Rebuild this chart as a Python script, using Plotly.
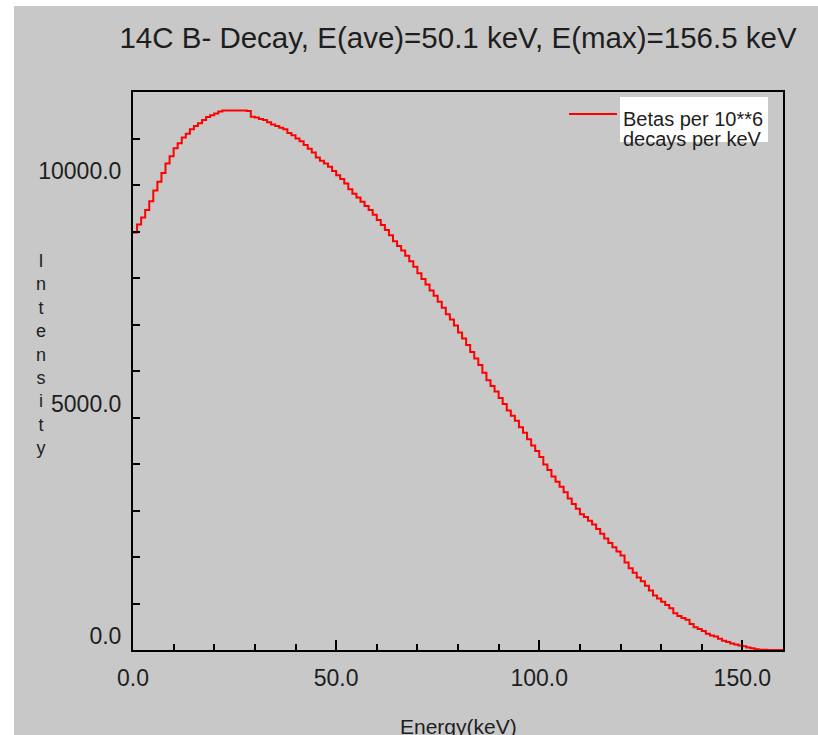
import plotly.graph_objects as go

# ---- data ----
energy_kev = list(range(0, 157)) + [160]
intensity = [
    8980, 9150, 9300, 9460, 9650, 9880, 10070, 10260, 10460, 10620,
    10790, 10900, 11020, 11100, 11200, 11270, 11330, 11400, 11460, 11500,
    11540, 11580, 11600, 11600, 11600, 11600, 11600, 11600, 11590, 11470,
    11450, 11420, 11400, 11350, 11300, 11270, 11230, 11200, 11120, 11070,
    11000, 10940, 10860, 10780, 10700, 10590, 10520, 10460, 10390, 10300,
    10210, 10130, 10030, 9910, 9810, 9730, 9640, 9550, 9460, 9360,
    9250, 9140, 9030, 8920, 8790, 8690, 8590, 8480, 8360, 8240,
    8100, 7980, 7860, 7730, 7620, 7490, 7360, 7220, 7110, 6980,
    6830, 6700, 6560, 6410, 6270, 6130, 5960, 5800, 5680, 5560,
    5420, 5290, 5150, 5040, 4930, 4790, 4670, 4530, 4400, 4280,
    4150, 3990, 3870, 3730, 3620, 3510, 3390, 3260, 3140, 3040,
    2920, 2860, 2780, 2700, 2600, 2500, 2400, 2300, 2210, 2120,
    2030, 1880, 1760, 1660, 1560, 1480, 1380, 1280, 1170, 1110,
    1040, 970, 900, 790, 730, 690, 650, 560, 490, 450,
    410, 350, 310, 290, 240, 200, 170, 140, 120, 95,
    80, 55, 35, 18, 8, 3,
    0, 0,
]
x_ticks = [0, 50, 100, 150]
y_ticks = [0, 5000, 10000]
title_text = "14C B- Decay, E(ave)=50.1 keV, E(max)=156.5 keV"
legend_lines = ["Betas per 10**6", "decays per keV"]
x_title = "Energy(keV)"
y_title = "Intensity"

# ---- layout geometry (page pixels) ----
W, H = 818, 735
L, R, T, B = 133, 783, 92, 650          # plot frame in page pixels
pw, ph = R - L, B - T


def px(x):
    return (x - L) / pw


def py(y):
    return (B - y) / ph


FONT = "Liberation Sans, Arial, sans-serif"
TXT = "#1e1e1e"
GRAY = "#c8c8c8"

fig = go.Figure()
fig.add_trace(go.Scatter(
    x=energy_kev, y=intensity, mode="lines", line_shape="hv",
    line=dict(color="#ff0000", width=2), name="Betas per 10**6 decays per keV",
    showlegend=False, hoverinfo="x+y",
))

fig.update_layout(
    width=W, height=H,
    margin=dict(l=L, r=W - R, t=T, b=H - B, pad=0),
    paper_bgcolor="white", plot_bgcolor="rgba(0,0,0,0)",
    font=dict(family=FONT, color=TXT),
    title=dict(text=title_text, x=px(458), xref="paper", xanchor="center",
               y=1 - 38 / H, yanchor="middle", font=dict(size=29.5, color=TXT)),
    shapes=[
        dict(type="rect", xref="paper", yref="paper", layer="below",
             x0=px(14), x1=px(W + 5), y0=py(H + 5), y1=py(6),
             fillcolor=GRAY, line=dict(width=0)),
        dict(type="rect", xref="paper", yref="paper", layer="above",
             x0=px(620), x1=px(768), y0=py(142), y1=py(97),
             fillcolor="white", line=dict(width=0)),
        dict(type="line", xref="paper", yref="paper", layer="above",
             x0=px(569), x1=px(617), y0=py(114), y1=py(114),
             line=dict(color="#ff0000", width=2)),
    ],
    annotations=[
        dict(text=legend_lines[0], xref="paper", yref="paper", x=px(621), y=py(119),
             xanchor="left", yanchor="middle", align="left", showarrow=False,
             font=dict(size=20, color=TXT, family=FONT)),
        dict(text=legend_lines[1], xref="paper", yref="paper", x=px(621), y=py(139),
             xanchor="left", yanchor="middle", align="left", showarrow=False,
             font=dict(size=20, color=TXT, family=FONT)),
        dict(text="<br>".join(list(y_title)), xref="paper", yref="paper",
             x=px(41), y=py(354), xanchor="center", yanchor="middle",
             showarrow=False, align="center",
             font=dict(size=18, color=TXT, family=FONT)),
        dict(text=x_title, xref="paper", yref="paper", x=px(458), y=py(726),
             xanchor="center", yanchor="middle", showarrow=False,
             font=dict(size=21, color=TXT, family=FONT)),
    ],
)

fig.update_xaxes(
    range=[0, 160], tickvals=x_ticks, tickformat=".1f",
    ticks="inside", ticklen=10, tickwidth=2, tickcolor="black",
    minor=dict(dtick=10, tick0=0, ticks="inside", ticklen=6, tickwidth=2, tickcolor="black"),
    showline=True, linecolor="black", linewidth=2, mirror=True,
    showgrid=False, zeroline=False,
    tickfont=dict(size=23, color=TXT), ticklabelstandoff=6,
)
fig.update_yaxes(
    range=[0, 12000], tickvals=y_ticks, tickformat=".1f",
    ticks="inside", ticklen=7, tickwidth=2, tickcolor="black",
    minor=dict(dtick=1000, tick0=0, ticks="inside", ticklen=7, tickwidth=2, tickcolor="black"),
    showline=True, linecolor="black", linewidth=2, mirror=True,
    showgrid=False, zeroline=False,
    tickfont=dict(size=23, color=TXT), ticklabelshift=-14, ticklabelstandoff=5,
)

fig.write_html(
    "out.html",
    config={"displayModeBar": False},
    post_script="document.body.style.margin='0';document.body.style.overflow='hidden';",
)
